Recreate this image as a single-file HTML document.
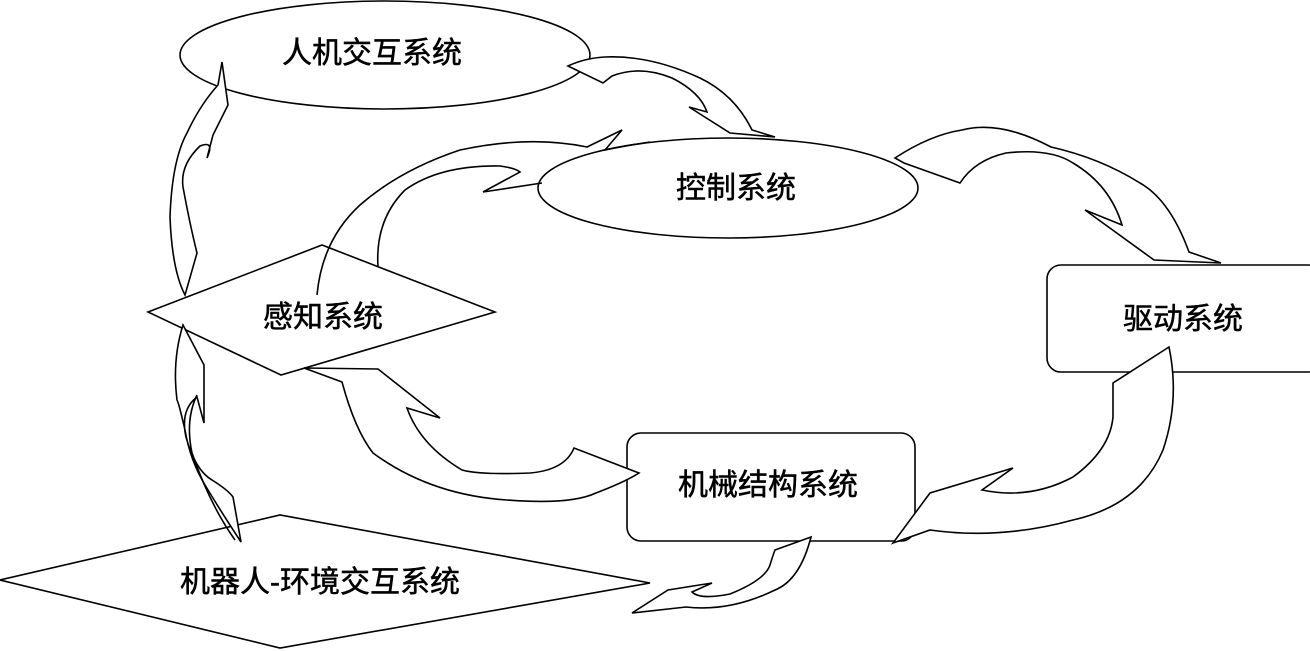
<!DOCTYPE html>
<html><head><meta charset="utf-8"><style>
html,body{margin:0;padding:0;background:#fff;}
svg{display:block}
text{font-family:"Liberation Sans","Noto Sans CJK SC",sans-serif;font-size:30px;fill:#000;stroke:#000;stroke-width:0.5;text-anchor:middle}
</style></head><body>
<svg width="1310" height="651" viewBox="0 0 1310 651" xmlns="http://www.w3.org/2000/svg">
<g fill="#fff" stroke="#000" stroke-width="1.6" stroke-linejoin="miter">
<ellipse cx="385" cy="55" rx="205" ry="54"/>
<ellipse cx="728" cy="188" rx="190" ry="50"/>
<polygon points="148,312 322,245 495,312 281,375"/>
<rect x="1047" y="265" width="275" height="107" rx="14"/>
<rect x="627" y="433" width="288" height="108" rx="14"/>
<polygon points="0,580 280,515 650,583 280,648"/>

<path d="M568,66 L603,83 L612,76 Q640,65 672,78 Q700,92 707,112 L689,107 L730,133 L775,137 L752,130 Q735,95 700,78 Q650,55 605,57 Q585,58 568,66 Z"/>
<path d="M895,158 L904,163 L960,183 Q975,160 1006,153 Q1050,148 1073,163 Q1110,185 1122,225 L1085,210 L1154,260 L1221,263 L1189,252 Q1170,200 1140,183 Q1100,158 1051,147 Q1000,120 962,130 Q930,135 895,158 Z"/>
<path d="M1169,347 Q1180,400 1163,450 Q1140,505 1073,520 Q1000,540 930,530 L893,543 L930,493 L1013,468 L982,490 Q1030,500 1073,477 Q1110,450 1113,417 Q1113,395 1113,383 Z"/>
<path d="M811,537 Q800,580 775,590 Q730,612 686,607 L632,613 L668,590 L712,583 L692,592 Q700,600 730,594 Q765,580 770,565 Q773,555 775,550 Z"/>
<path d="M639,473 L574,448 Q565,470 530,473 Q480,475 462,470 Q420,445 407,408 L440,418 L378,369 L304,368 L342,382 Q355,430 373,453 Q430,495 507,500 Q570,505 596,493 Q625,482 639,473 Z"/>
<path fill="none" d="M317,295 Q322,240 360,205 Q400,170 460,150 Q530,135 587,147 L622,130 L605,150 Q630,145 650,142"/>
<path fill="none" d="M378,267 Q375,220 405,190 Q440,165 500,166 Q515,168 520,172 L483,192 L542,183"/>
<path d="M222,62 L228,105 L213,135 L207,158 Q215,140 200,146 Q180,165 183,187 Q190,225 197,253 L185,295 Q172,270 170,217 Q172,160 187,133 Q200,105 218,85 Z"/>
<path d="M183,325 L204,365 L204,423 L197,397 Q180,410 186,437 Q195,470 212,480 Q228,490 233,497 L241,542 Q220,510 205,485 Q190,460 185,430 Q178,400 177,400 Q172,360 183,325 Z"/>
<path d="M197,395 Q185,420 192,453 Q210,505 235,540" fill="none"/>
</g>
<text x="372" y="63">人机交互系统</text>
<text x="736" y="198">控制系统</text>
<text x="323" y="327">感知系统</text>
<text x="1183" y="329">驱动系统</text>
<text x="768" y="495">机械结构系统</text>
<text x="320" y="592">机器人-环境交互系统</text>
</svg>
</body></html>
